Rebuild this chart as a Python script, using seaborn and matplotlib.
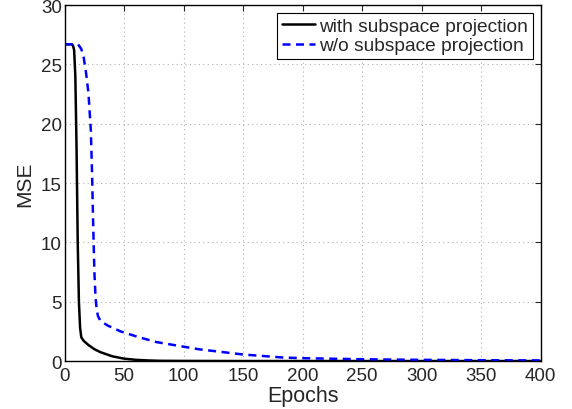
import numpy as np
import pandas as pd
import matplotlib
matplotlib.use("Agg")
import matplotlib.pyplot as plt
import seaborn as sns

# values
epochs_with = [0, 2, 4, 6, 7, 8, 9, 10, 11, 12, 13, 14, 16, 20, 25, 30, 40, 50,
               60, 70, 80, 100, 150, 200, 300, 400]
mse_with = [26.7, 26.7, 26.7, 26.7, 26.6, 26.2, 24.0, 18.0, 10.0, 5.0, 2.8, 2.0,
            1.7, 1.35, 1.0, 0.75, 0.4, 0.2, 0.1, 0.05, 0.02, 0.01, 0.0, 0.0, 0.0, 0.0]

epochs_wo = [0, 4, 8, 11, 12, 14, 16, 18, 20, 22, 23, 24, 25, 26, 27, 28, 30, 36,
             47, 61, 77, 97, 113, 150, 183, 200, 250, 300, 350, 400]
mse_wo = [26.7, 26.7, 26.7, 26.7, 26.6, 26.3, 25.6, 24.3, 22.6, 19.5, 16.0, 11.5,
          7.5, 5.3, 4.3, 3.8, 3.4, 3.0, 2.5, 2.05, 1.6, 1.26, 0.99, 0.55, 0.3, 0.24,
          0.15, 0.1, 0.07, 0.05]

label_with = "with subspace projection"
label_wo = "w/o subspace projection"

df = pd.concat([
    pd.DataFrame({"Epochs": epochs_with, "MSE": mse_with, "method": label_with}),
    pd.DataFrame({"Epochs": epochs_wo, "MSE": mse_wo, "method": label_wo}),
])

sns.set_style("white")
plt.rcParams["font.family"] = ["Liberation Sans", "DejaVu Sans"]

fig = plt.figure(figsize=(5.72, 4.10), dpi=100)
ax = fig.add_axes([0.113, 0.117, 0.832, 0.868])

sns.lineplot(data=df, x="Epochs", y="MSE", hue="method", style="method",
             palette={label_with: "black", label_wo: "#0000ff"},
             dashes={label_with: "", label_wo: (3.2, 2.2)},
             linewidth=1.8, ax=ax)

ax.set_xlim(0, 400)
ax.set_ylim(0, 30)
ax.set_xticks(np.arange(0, 401, 50))
ax.set_yticks(np.arange(0, 31, 5))
ax.grid(True, color="#b0b0b0", linestyle=(0, (1, 3)), linewidth=0.8)
ax.tick_params(direction="in", top=True, right=True, labelsize=13.5, length=4)
ax.tick_params(axis="x", pad=4)
ax.tick_params(axis="y", pad=2)
for s in ax.spines.values():
    s.set_color("black")
    s.set_linewidth(1.0)
ax.set_xlabel("Epochs", fontsize=15.5, labelpad=1)
ax.set_ylabel("MSE", fontsize=15, labelpad=5)

leg = ax.legend(loc="upper right", fontsize=13.8, frameon=True, fancybox=False,
                edgecolor="black", framealpha=1, borderpad=0.25,
                handlelength=1.75, handletextpad=0.2, labelspacing=0.1,
                borderaxespad=0.4)
leg.get_frame().set_linewidth(0.8)

fig.savefig("out.png", dpi=100)
